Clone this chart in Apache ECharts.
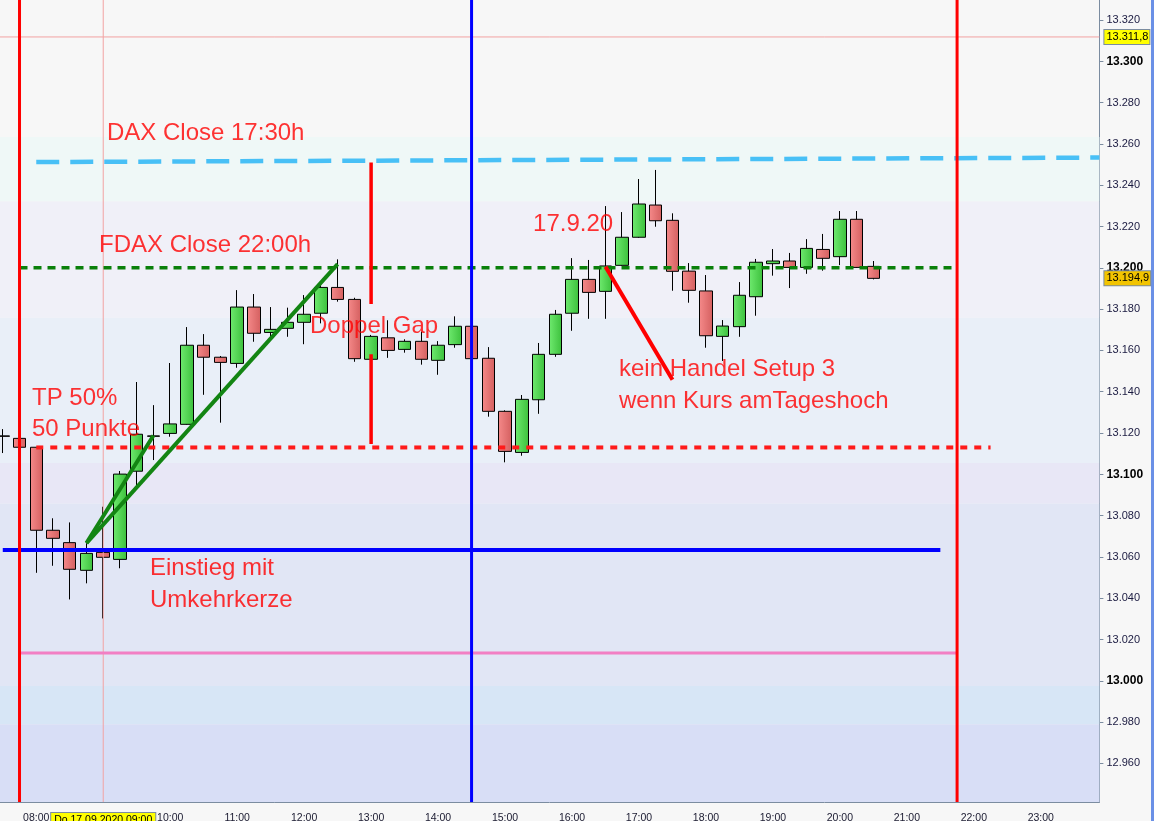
<!DOCTYPE html>
<html><head><meta charset="utf-8">
<script src="https://cdn.jsdelivr.net/npm/echarts@6/dist/echarts.min.js"></script>
<style>html,body{margin:0;padding:0;background:#f7f7f7}#c{width:1154px;height:821px}</style>
</head><body><div id="c"></div>
<script>
// ---- data ----
const candleTimes = ['07:30','07:45','08:00','08:15','08:30','08:45','09:00','09:15','09:30','09:45','10:00','10:15','10:30','10:45','11:00','11:15','11:30','11:45','12:00','12:15','12:30','12:45','13:00','13:15','13:30','13:45','14:00','14:15','14:30','14:45','15:00','15:15','15:30','15:45','16:00','16:15','16:30','16:45','17:00','17:15','17:30','17:45','18:00','18:15','18:30','18:45','19:00','19:15','19:30','19:45','20:00','20:15','20:30'];
const opens  = [13118.6,13117.4,13113.1,13072.9,13066.9,13053.5,13062.2,13058.8,13101.5,13118.6,13119.8,13124.2,13162.5,13156.7,13153.7,13181.0,13168.7,13170.7,13173.6,13178.0,13190.5,13184.7,13155.7,13166.1,13160.5,13164.4,13155.2,13162.8,13171.7,13156.2,13130.5,13110.6,13136.1,13158.1,13178.0,13194.4,13188.6,13201.2,13214.8,13230.4,13223.0,13198.4,13188.8,13166.8,13171.5,13186.0,13202.0,13203.3,13200.2,13208.9,13205.4,13223.5,13200.7];
const closes = [13118.4,13113.1,13072.9,13069.0,13054.0,13061.7,13059.8,13100.1,13119.4,13118.4,13124.4,13162.5,13156.7,13154.2,13181.0,13168.3,13170.2,13173.6,13177.5,13190.5,13184.7,13156.0,13166.8,13160.0,13164.4,13155.7,13162.5,13171.7,13156.0,13130.5,13111.1,13136.3,13158.1,13177.5,13194.4,13188.1,13200.9,13214.8,13230.9,13222.8,13198.3,13189.1,13167.1,13171.8,13186.7,13202.7,13203.3,13200.2,13209.4,13204.6,13223.5,13200.2,13194.9];
const lows   = [13110.3,13112.7,13052.3,13055.7,13039.4,13047.2,13030.2,13054.5,13094.3,13106.9,13118.2,13124.0,13138.5,13125.0,13151.6,13164.2,13165.5,13166.6,13163.0,13173.1,13183.6,13154.5,13155.0,13156.4,13158.9,13153.1,13148.2,13161.3,13155.5,13127.9,13105.8,13109.0,13129.3,13156.9,13169.5,13175.3,13175.3,13201.0,13214.5,13219.9,13188.9,13183.1,13161.3,13154.9,13166.6,13176.8,13196.2,13190.2,13197.1,13198.6,13201.3,13200.0,13194.4];
const highs  = [13121.9,13118.0,13113.2,13078.7,13076.7,13066.6,13084.3,13101.6,13144.7,13133.5,13153.9,13171.3,13167.9,13157.3,13189.2,13187.3,13181.0,13180.7,13186.8,13192.0,13204.1,13185.5,13167.5,13174.6,13165.4,13169.1,13164.5,13176.5,13172.5,13161.6,13131.0,13138.4,13163.6,13179.6,13204.7,13203.8,13229.9,13227.0,13243.0,13247.4,13226.4,13202.3,13196.5,13174.7,13193.1,13204.3,13209.1,13207.2,13213.9,13216.4,13227.5,13227.5,13203.3];

// price levels / drawn lines, x in hours of day
const daxCloseLine  = [[8.0, 13251.2], [23.875, 13253.4]];
const fdaxCloseLine = [[7.75, 13200.0], [21.75, 13200.0]];
const tpLine        = [[8.0, 13113.0], [22.25, 13113.0]];
const entryLine     = [[7.5, 13063.3], [21.5, 13063.3]];
const pinkLine      = [[7.75, 13013.4], [21.75, 13013.4]];
const gapUpper      = [[13.0, 13251.0], [13.0, 13182.5]];
const gapLower      = [[13.0, 13158.2], [13.0, 13114.7]];
const trendLong     = [[8.75, 13066.7], [12.5, 13201.8]];
const trendShort    = [[8.75, 13066.7], [9.75, 13118.8]];
const noTradeLine   = [[16.5, 13200.5], [17.5, 13145.8]];
const sessionStart = 7.75, sessionEnd = 21.75, middayLine = 14.5, crosshairTime = 9.0;
const crosshairPrice = 13311.8, lastPrice = 13194.9;
const notes = [
  [9.056, 13265.0, 'DAX Close 17:30h'],
  [8.937, 13211.0, 'FDAX Close 22:00h'],
  [7.936, 13137.0, 'TP 50%'],
  [7.936, 13121.8, '50 Punkte'],
  [12.088, 13171.5, 'Doppel Gap'],
  [15.418, 13221.2, '17.9.20'],
  [16.702, 13151.0, 'kein Handel Setup 3'],
  [16.702, 13135.5, 'wenn Kurs amTageshoch'],
  [9.698, 13054.6, 'Einstieg mit'],
  [9.698, 13039.1, 'Umkehrkerze']
];
// background bands [from, to, colour]
const bands = [
  [13263.3, 13232.1, '#eff8f7'],
  [13232.1, 13175.8, '#f0f0f8'],
  [13175.8, 13105.5, '#e9eff8'],
  [13105.5, 13085.8, '#e8e7f6'],
  [13085.8, 12997.5, '#e1e6f5'],
  [12997.5, 12979.0, '#d7e6f6'],
  [12979.0, 12900.0, '#d8def6']
];
const yMin = 12941.3, yMax = 13329.7, tMin = 7.375, tMax = 23.875;

// time slots of the category axis
const slots = [];
for (let m = 7 * 60 + 30; m <= 23 * 60 + 45; m += 15) {
  slots.push(String(Math.floor(m / 60)).padStart(2, '0') + ':' + String(m % 60).padStart(2, '0'));
}

const fmt = v => String(Math.round(v)).replace(/\B(?=(\d{3})+(?!\d))/g, '.');
const axisCol = '#7b8ca0';
const chart = echarts.init(document.getElementById('c'));
const upGrad = new echarts.graphic.LinearGradient(0, 0, 1, 0, [{offset: 0, color: '#6fea6f'}, {offset: 1, color: '#3cc03c'}]);
const dnGrad = new echarts.graphic.LinearGradient(0, 0, 1, 0, [{offset: 0, color: '#f58a8a'}, {offset: 1, color: '#d45f5f'}]);

function lineSeries(data, color, width, type) {
  return {type: 'line', xAxisIndex: 1, yAxisIndex: 0, data: data, symbol: 'none', silent: true, z: 5,
    animation: false, lineStyle: {color: color, width: width, type: type || 'solid', cap: 'butt'}};
}
const vert = t => [[t, yMin], [t, yMax]];
const hourTick = (i, v) => v.endsWith(':00');

chart.setOption({
  animation: false,
  backgroundColor: '#f7f7f7',
  grid: {left: -5.6, width: 1105, top: 0, height: 802, outerBoundsMode: 'none', containLabel: false},
  xAxis: [{
    type: 'category', data: slots, boundaryGap: true,
    axisLine: {lineStyle: {color: axisCol, width: 1}},
    axisTick: {alignWithLabel: true, interval: hourTick, length: 5, lineStyle: {color: axisCol}},
    axisLabel: {interval: hourTick, margin: 11, hideOverlap: false, showMinLabel: true, showMaxLabel: true,
      fontFamily: 'Liberation Sans', fontSize: 10.5, color: '#1a1a30',
      formatter: v => v === '09:00' ? '{hl|Do 17.09.2020 09:00}' : v,
      rich: {hl: {backgroundColor: '#ffff00', borderColor: axisCol, borderWidth: 1, padding: [2, 3, 3, 3],
        fontFamily: 'Liberation Sans', fontSize: 10.5, color: '#000'}}},
    splitLine: {show: false}
  }, {
    type: 'value', min: tMin, max: tMax, show: false
  }],
  yAxis: {
    type: 'value', position: 'right', min: yMin, max: yMax, minInterval: 20, maxInterval: 20, scale: true,
    axisLine: {show: true, lineStyle: {color: axisCol}},
    axisTick: {show: true, length: 4, lineStyle: {color: axisCol}},
    splitLine: {show: false},
    axisLabel: {showMinLabel: false, showMaxLabel: false, margin: 7, fontFamily: 'Liberation Sans', fontSize: 11, color: '#1a1a40',
      formatter: v => Math.round(v) % 100 === 0 ? '{b|' + fmt(v) + '}' : fmt(v),
      rich: {b: {fontWeight: 'bold', fontSize: 12, color: '#000', fontFamily: 'Liberation Sans'}}}
  },
  graphic: [{type: 'rect', right: 0, top: 0, shape: {width: 3, height: 821}, style: {fill: '#6a90e6'}}],
  series: [
    {type: 'line', data: [], z: 0, silent: true,
      markArea: {silent: true, data: bands.map(b => [{yAxis: b[0], itemStyle: {color: b[2]}}, {yAxis: b[1]}])}},
    {type: 'candlestick', z: 3, barWidth: 13,
      data: candleTimes.map((t, i) => [opens[i], closes[i], lows[i], highs[i]]),
      itemStyle: {color: upGrad, color0: dnGrad, borderColor: '#000', borderColor0: '#000', borderColorDoji: '#000', borderWidth: 1}},
    lineSeries(vert(crosshairTime), '#f2a2a2', 1),
    lineSeries([[tMin, crosshairPrice], [tMax, crosshairPrice]], '#f2a2a2', 1),
    lineSeries(pinkLine, '#f27fc4', 3),
    lineSeries(entryLine, '#0000ff', 4),
    lineSeries(tpLine, '#ff1a1a', 4, [7, 7]),
    lineSeries(fdaxCloseLine, '#0a800a', 3.5, [8, 6]),
    lineSeries(daxCloseLine, '#48c0f6', 4.5, [23, 11]),
    lineSeries(vert(sessionStart), '#ff0000', 3),
    lineSeries(vert(sessionEnd), '#ff0000', 3),
    lineSeries(vert(middayLine), '#0000ff', 3),
    lineSeries(gapUpper, '#ff0000', 3.5),
    lineSeries(gapLower, '#ff0000', 3.5),
    lineSeries(trendLong, '#138513', 4),
    lineSeries(trendShort, '#138513', 4),
    lineSeries(noTradeLine, '#ff0000', 4),
    {type: 'scatter', xAxisIndex: 1, yAxisIndex: 0, z: 8, silent: true, symbolSize: 0,
      data: notes.map(n => ({value: [n[0], n[1]], name: n[2]})),
      label: {show: true, position: 'right', distance: 0, formatter: '{b}', color: '#ff0000',
        fontFamily: 'Liberation Sans', fontSize: 24, align: 'left', verticalAlign: 'middle'}},
    {type: 'line', data: [], z: 9, silent: true,
      markLine: {silent: true, symbol: ['none', 'none'], animation: false,
        data: [
          {yAxis: crosshairPrice, lineStyle: {color: 'rgba(0,0,0,0)', width: 0},
            label: {show: true, position: 'end', distance: 5, formatter: fmt(Math.floor(crosshairPrice)) + ',' + Math.round((crosshairPrice % 1) * 10),
              backgroundColor: '#ffff00', borderColor: axisCol, borderWidth: 1, padding: [2, 1, 1, 2], color: '#000', fontFamily: 'Liberation Sans', fontSize: 11}},
          {yAxis: lastPrice, lineStyle: {color: 'rgba(0,0,0,0)', width: 0},
            label: {show: true, position: 'end', distance: 5, formatter: fmt(Math.floor(lastPrice)) + ',' + Math.round((lastPrice % 1) * 10),
              backgroundColor: '#f2c400', borderColor: axisCol, borderWidth: 1, padding: [2, 1, 1, 2], color: '#000', fontFamily: 'Liberation Sans', fontSize: 11}}
        ]}}
  ]
});
</script></body></html>
